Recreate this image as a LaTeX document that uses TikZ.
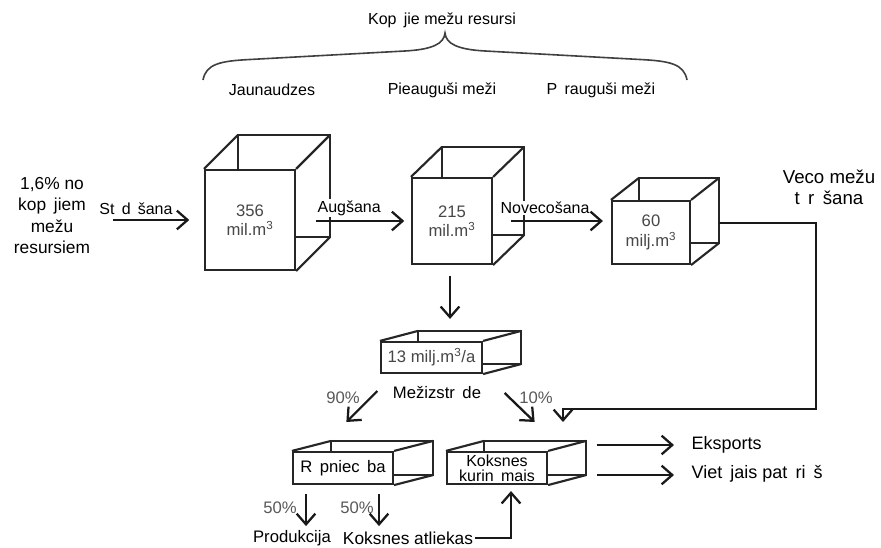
\documentclass[tikz,border=0pt]{standalone}
\usepackage{fontspec}
\setmainfont{Liberation Sans}
\usetikzlibrary{arrows.meta,backgrounds,calc}

% gap left where a long vowel is missing
\newcommand{\lvgap}{\hspace{0.45em}}

\tikzset{
  edge/.style={line width=1.6pt, draw=black!85},
  arr/.style={line width=1.7pt, draw=black!90, -{Straight Barb[length=8pt,width=14pt]}},
  face/.style={draw=black!85, line width=1.6pt, fill=white, inner sep=0pt, align=center,
               text=black!72, font=\fontsize{12.5}{14.5}\selectfont},
  lbl/.style={inner sep=1pt, font=\fontsize{12}{16}\selectfont, align=center},
  big/.style={lbl, font=\fontsize{13.5}{16}\selectfont},
  pct/.style={lbl, text=black!65, font=\fontsize{12.5}{16}\selectfont},
  cut/.style={lbl, fill=white},
}

% hidden-line box: back rectangle and the three visible depth edges
\newcommand{\drawboxback}[3]{%
  \begin{pgfonlayer}{background}
    \draw[edge] ([shift={(#2,-#3)}]#1.north west) rectangle ([shift={(#2,-#3)}]#1.south east);
    \draw[edge] (#1.north west) -- ([shift={(#2,-#3)}]#1.north west)
                (#1.north east) -- ([shift={(#2,-#3)}]#1.north east)
                (#1.south east) -- ([shift={(#2,-#3)}]#1.south east);
  \end{pgfonlayer}}

\begin{document}
\begin{tikzpicture}[x=0.75pt,y=-0.75pt]
\begin{pgfonlayer}{background}
  \fill[white] (0,0) rectangle (881,548);
\end{pgfonlayer}
\useasboundingbox (0,0) rectangle (881,548);

% brace over the three age classes
\node[lbl] (title) at (442,20) {Kop\lvgap jie mežu resursi};
\draw[line width=1.2pt, black!75]
  (203,80) .. controls (206,64) and (220,61) .. (250,59.5) -- (405,51)
  .. controls (432,49.5) and (444,44) .. (445,33)
  .. controls (446,44) and (458,49.5) .. (485,51) -- (640,59.5)
  .. controls (670,61) and (684,64) .. (687,80);
\node[lbl] (jaun)   at (272,90) {Jaunaudzes};
\node[lbl] (pieaug) at (442,90) {Pieauguši meži};
\node[lbl] (parau)  at (601,90) {P\lvgap rauguši meži};

% stock boxes
\node[face, minimum width=67.5pt, minimum height=75pt] (c1) at (250,220) {356\\mil.m\textsuperscript{3}};
\drawboxback{c1}{34}{34}
\node[face, minimum width=60pt, minimum height=64.5pt] (c2) at (452,221) {215\\mil.m\textsuperscript{3}};
\drawboxback{c2}{31}{30}
\node[face, minimum width=58.5pt, minimum height=47.25pt] (c3) at (651,232.5) {60\\milj.m\textsuperscript{3}};
\drawboxback{c3}{28}{22}
\node[face, minimum width=75.75pt, minimum height=23.25pt] (m13) at (431.5,357.5) {13 milj.m\textsuperscript{3}/a};
\drawboxback{m13}{38}{10}
\node[face, text=black, font=\fontsize{12.5}{14.5}\selectfont, minimum width=75pt, minimum height=24pt] (rp) at (343,468) {R\lvgap pniec\lvgap ba};
\drawboxback{rp}{39}{10}
\node[face, text=black, minimum width=75pt, minimum height=24pt,
      font=\fontsize{12}{11.5}\selectfont] (kk) at (497,468) {Koksnes\\kurin\lvgap mais};
\drawboxback{kk}{38}{10}

% text labels
\node[lbl, font=\fontsize{13}{16}\selectfont] (src) at (52,215.5) {1,6\% no\\kop\lvgap jiem\\mežu\\resursiem};
\node[lbl] (stad) at (136,209) {St\lvgap d\lvgap šana};
\node[cut, anchor=west] (aug) at (316,208) {Augšana};
\node[cut, anchor=west] (nov) at (499,208) {Novecošana};
\node[lbl, font=\fontsize{14}{16}\selectfont] (veco) at (829,187.5) {Veco mežu\\t\lvgap r\lvgap šana};
\node[lbl, font=\fontsize{12.5}{16}\selectfont] (mz) at (437,393) {Mežizstr\lvgap de};
\node[pct] (p90) at (343,398) {90\%};
\node[pct] (p10) at (536,398) {10\%};
\node[pct] (p50a) at (280,508) {50\%};
\node[pct] (p50b) at (357,508) {50\%};
\node[lbl, font=\fontsize{12.5}{16}\selectfont] (prod) at (292,538) {Produkcija};
\node[lbl, font=\fontsize{13}{16}\selectfont] (ka) at (408,538) {Koksnes atliekas};
\node[big, anchor=west] (eks) at (690,445) {Eksports};
\node[big, anchor=west] (viet) at (690,474) {Viet\lvgap jais pat\lvgap ri\lvgap š};

% flows
\draw[arr, shorten <=16pt, shorten >=11pt] (src.east |- c1.west) -- (c1.west);
\draw[arr, shorten >=5pt] (aug.west |- c2.west) -- (c2.west);
\draw[arr, shorten <=9pt, shorten >=6pt] (nov.west |- c2.west) -- (c3.west |- c2.west);
\coordinate (vbend) at (816,409);
\coordinate (vend) at (563,422);
\draw[arr] ([shift={(28,-9.5)}]c3.east) -| (vbend) -| (vend);
\draw[arr, shorten <=8pt, shorten >=16.5pt] ([xshift=-1.5pt]c2.south) -- ([xshift=-1.5pt]c2.south |- m13.north);
\draw[arr] ([shift={(-14,-2)}]mz.west) -- ++(-31,31);
\draw[arr] ([shift={(22,0)}]mz.east) -- ++(30,29);
\draw[arr, shorten <=6.75pt] ([xshift=-27.75pt]rp.south) -- ++(0,41);
\draw[arr, shorten <=6.75pt] ([xshift=27pt]rp.south) -- ++(0,41);
\draw[arr, shorten >=4.5pt] (ka.east) -| ([xshift=10.5pt]kk.south);
\draw[arr] ([xshift=-70pt]eks.west) -- ([xshift=-12pt]eks.west);
\draw[arr] ([shift={(-93,1)}]viet.west) -- ([shift={(-16,1)}]viet.west);
\end{tikzpicture}
\end{document}
